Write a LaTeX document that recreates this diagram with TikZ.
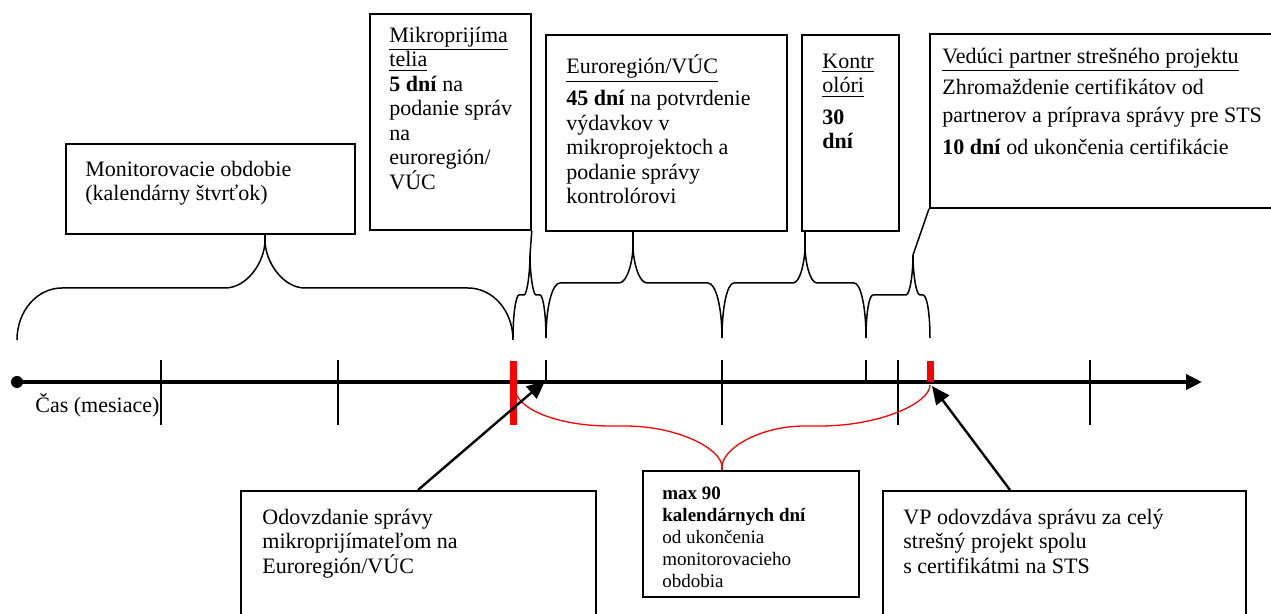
\documentclass[tikz,border=0pt]{standalone}
\usepackage{fontspec}
\setmainfont{Liberation Serif}
\usetikzlibrary{arrows.meta}
\newcommand{\topstrut}{\rule{0pt}{10pt}}
\begin{document}
\begin{tikzpicture}[x=0.5pt,y=-0.5pt,
    box/.style={draw,line width=0.9pt,inner sep=0pt,anchor=north west},
    txt/.style={anchor=north west,inner sep=0pt,align=left,font=\fontsize{11}{12.25}\selectfont},
    small/.style={txt,font=\fontsize{9.5}{11}\selectfont},
    brace/.style={line width=0.75pt},
    tick/.style={line width=0.6pt},
    pointer/.style={line width=1.2pt,-{Triangle[length=9pt,width=8pt]}}]

    \clip (0,0) rectangle (1271,614);

    %boxes above the time line
    \node[box,minimum width=144.5pt,minimum height=45pt] (mon) at (65,143) {};
    \node[box,minimum width=80.5pt,minimum height=108pt] (mik) at (369,13) {};
    \node[box,minimum width=120.5pt,minimum height=98pt] (euro) at (545,34) {};
    \node[box,minimum width=48.5pt,minimum height=98pt] (kon) at (801,34) {};
    \node[box,minimum width=180pt,minimum height=87pt] (vedp) at (929,33) {};

    \node[txt] (monT) at ([shift={(20,13)}]mon.north west) {\topstrut Monitorovacie obdobie\\(kalendárny štvrťok)};
    \node[txt] (mikT) at ([shift={(20,9)}]mik.north west) {\topstrut\underline{Mikroprijíma}\\\underline{telia}\\\textbf{5 dní} na\\podanie správ\\na\\euroregión/\\VÚC};
    \node[txt] (euroT) at ([shift={(21,19)}]euro.north west) {\topstrut\underline{Euroregión/VÚC}\\[4pt]\textbf{45 dní} na potvrdenie\\výdavkov v\\mikroprojektoch a\\podanie správy\\kontrolórovi};
    \node[txt] (konT) at ([shift={(21,14)}]kon.north west) {\topstrut\underline{Kontr}\\\underline{olóri}\\[3.5pt]\textbf{30}\\\textbf{dní}};
    \node[txt] (vedpT) at ([shift={(13,10)}]vedp.north west) {\topstrut\underline{Vedúci partner strešného projektu}\\[3.5pt]Zhromaždenie certifikátov od\\[1.5pt]partnerov a príprava správy pre STS\\[4pt]\textbf{10 dní} od ukončenia certifikácie};

    %boxes below the time line
    \node[box,minimum width=177.5pt,minimum height=70pt] (odov) at (240,490) {};
    \node[box,minimum width=108pt,minimum height=63pt] (max) at (642,470) {};
    \node[box,minimum width=181.5pt,minimum height=70pt] (vpod) at (882,490) {};

    \node[txt] (odovT) at ([shift={(22,14)}]odov.north west) {\topstrut Odovzdanie správy\\mikroprijímateľom na\\Euroregión/VÚC};
    \node[small] (maxT) at ([shift={(20,9)}]max.north west) {\topstrut\textbf{max 90}\\\textbf{kalendárnych dní}\\od ukončenia\\monitorovacieho\\obdobia};
    \node[txt] (vpodT) at ([shift={(21,14)}]vpod.north west) {\topstrut VP odovzdáva správu za celý\\strešný projekt spolu\\s certifikátmi na STS};

    %time line
    \coordinate (start) at (17,382);
    \coordinate (end) at (1202,382);
    \draw[line width=2pt,-{Triangle[length=8pt,width=7.5pt]}] (start) -- (end);
    \fill (start) circle[radius=3pt];
    \node[txt,anchor=west] (cas) at (35,405) {Čas (mesiace)};

    \draw[tick] (161,360) -- (161,425);
    \draw[tick] (338,360) -- (338,425);
    \draw[tick] (546,360) -- (546,382);
    \draw[tick] (722,360) -- (722,425);
    \draw[tick] (866,360) -- (866,382);
    \draw[tick] (898,360) -- (898,425);
    \draw[tick] (1090,360) -- (1090,425);

    \draw[red,line width=3.5pt] (513,361) -- (513,425);%end of period
    \draw[red,line width=3.5pt] (930,361) -- (930,382);%report to STS

    %braces
    \coordinate (monTip) at (265,240);
    \coordinate (mikTip) at (530,255);
    \coordinate (euroTip) at (633,245);
    \coordinate (konTip) at (805,245);
    \coordinate (vedpTip) at (913,255);
    \coordinate (maxTip) at (722,467);

    \draw[brace] (17,340) .. controls (17,311) and (37,288) .. (62,288) -- (225,288) .. controls (247,288) and (265,262) .. (monTip) .. controls (265,262) and (283,288) .. (305,288) -- (468,288) .. controls (493,288) and (513,311) .. (513,340);
    \draw[brace] (monTip) -- (monTip |- mon.south);

    \draw[brace] (513,338) .. controls (513,314) and (516,295) .. (519,295) -- (524,295) .. controls (527,295) and (530,273) .. (mikTip) .. controls (530,273) and (533,295) .. (536,295) -- (540,295) .. controls (543,295) and (546,314) .. (546,338);
    \draw[brace] (mikTip) -- (mik.south east);

    \draw[brace] (546,338) .. controls (546,308) and (552,283) .. (560,283) -- (619,283) .. controls (627,283) and (633,262) .. (euroTip) .. controls (633,262) and (639,283) .. (647,283) -- (708,283) .. controls (716,283) and (722,308) .. (722,338);
    \draw[brace] (euroTip) -- (euroTip |- euro.south);

    \draw[brace] (722,338) .. controls (722,308) and (727,283) .. (734,283) -- (793,283) .. controls (800,283) and (805,262) .. (konTip) .. controls (805,262) and (810,283) .. (817,283) -- (854,283) .. controls (861,283) and (866,308) .. (866,338);
    \draw[brace] (konTip) -- (konTip |- kon.south);

    \draw[brace] (866,338) .. controls (866,314) and (869,295) .. (873,295) -- (906,295) .. controls (910,295) and (913,273) .. (vedpTip) .. controls (913,273) and (916,295) .. (920,295) -- (923,295) .. controls (927,295) and (930,314) .. (930,338);
    \draw[brace] (vedpTip) -- (vedp.south west);

    %max 90 days
    \draw[red,line width=0.65pt] (515,388) .. controls (515,409) and (558,426) .. (610,426) -- (625,426) .. controls (678,426) and (722,449) .. (maxTip) .. controls (722,449) and (759,426) .. (805,426) -- (820,426) .. controls (880,426) and (930,403) .. (930,385);
    \draw[red,line width=0.65pt] (maxTip) -- (maxTip |- max.north);

    %arrows to the time line
    \draw[pointer] (418,0 |- odov.north) -- (545,381);
    \draw[pointer] (1010,0 |- vpod.north) -- (932,386);

\end{tikzpicture}
\end{document}
